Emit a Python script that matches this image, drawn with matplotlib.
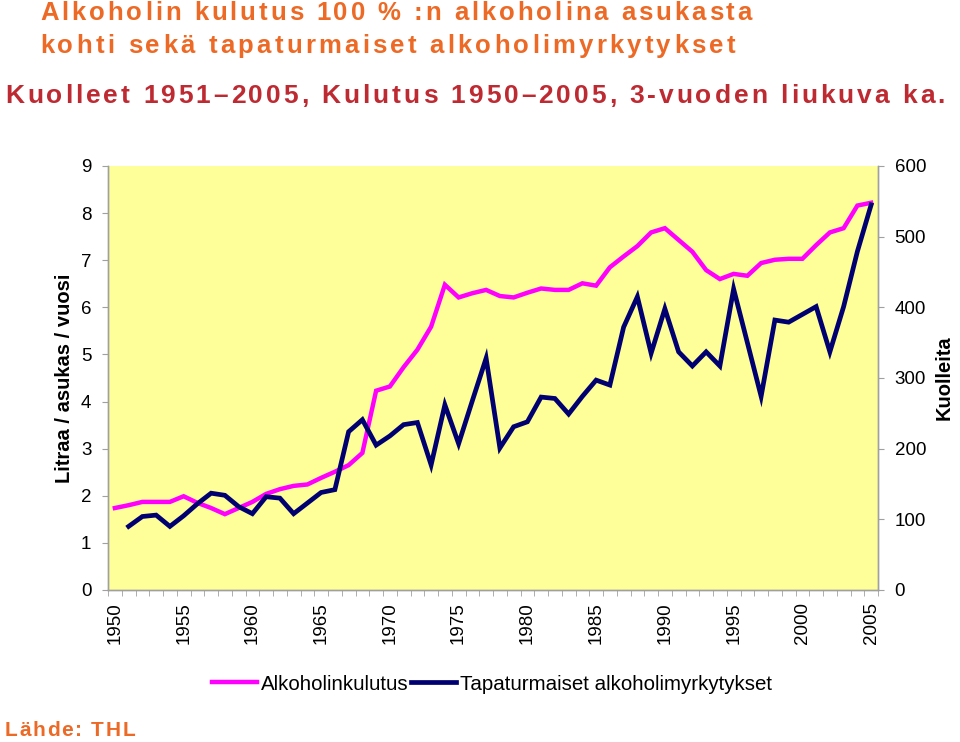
import numpy as np
import matplotlib.pyplot as plt
from matplotlib.font_manager import FontProperties

years_cons = list(range(1950, 2006))
years_dead = list(range(1951, 2006))

# alcohol consumption, litres / inhabitant / year (left axis)
consumption = [1.74, 1.80, 1.87, 1.87, 1.87, 1.99, 1.85, 1.74, 1.61, 1.74,
               1.87, 2.04, 2.14, 2.21, 2.24, 2.38, 2.51, 2.65, 2.91, 4.23,
               4.32, 4.73, 5.10, 5.59, 6.48, 6.21, 6.30, 6.37, 6.24, 6.21,
               6.31, 6.40, 6.37, 6.37, 6.51, 6.46, 6.85, 7.08, 7.30, 7.59,
               7.68, 7.43, 7.18, 6.79, 6.60, 6.71, 6.67, 6.94, 7.01, 7.03,
               7.03, 7.32, 7.59, 7.68, 8.16, 8.22]

# accidental alcohol poisonings, deaths (right axis)
deaths = [90, 104, 106, 90, 105, 122, 137, 134, 118, 108,
          132, 130, 108, 123, 138, 142, 224, 241, 205, 218,
          234, 237, 177, 262, 207, 268, 328, 201, 231, 238,
          273, 271, 249, 274, 297, 290, 372, 415, 335, 398,
          337, 317, 337, 317, 426, 350, 274, 382, 379, 390,
          401, 337, 401, 479, 545]

left_ticks = list(range(0, 10))
right_ticks = list(range(0, 700, 100))
year_labels = list(range(1950, 2010, 5))

pink = '#FF00FF'
navy = '#000070'
orange = '#EC6A26'
red = '#BE2A32'
grey = '#A0A0A0'

W, H = 960, 742
fig = plt.figure(figsize=(9.6, 7.42), dpi=100)
plt.rcParams['font.family'] = ['Liberation Sans', 'DejaVu Sans']


def tracked_text(x, y, s, total, size, color):
    # letter-spaced text: x, y = left/baseline in pixels, total = target width
    prop = FontProperties(family=['Liberation Sans', 'DejaVu Sans'], size=size, weight='bold')
    r = fig.canvas.get_renderer()
    bar = r.get_text_width_height_descent('|', prop, ismath=False)[0]

    def w(t):
        return r.get_text_width_height_descent(t + '|', prop, ismath=False)[0] - bar

    extra = (total - w(s)) / (len(s) - 1)
    for i, ch in enumerate(s):
        if ch == ' ':
            continue
        fig.text((x + w(s[:i]) + i * extra) / W, 1 - y / H, ch, fontproperties=prop,
                 color=color, va='baseline', ha='left')


ax = fig.add_axes([108 / W, 1 - 590 / H, 770 / W, 424 / H])
ax.set_facecolor('#FFFF99')
ax2 = ax.twinx()

l1, = ax.plot(years_cons, consumption, color=pink, lw=3.2, solid_joinstyle='miter')
l2, = ax2.plot(years_dead, deaths, color=navy, lw=3.4, solid_joinstyle='miter')

ax.set_xlim(1949.5, 2005.5)
ax.set_ylim(0, 9)
ax2.set_ylim(0, 600)

ax.set_yticks(left_ticks)
ax2.set_yticks(right_ticks)
ax.set_xticks(year_labels)
ax.set_xticks(np.arange(1949.5, 2006, 1), minor=True)
ax.tick_params(axis='x', which='major', length=0, labelrotation=90, labelsize=13.5, pad=9)
ax.tick_params(axis='x', which='minor', length=4, color=grey, direction='out')
ax.tick_params(axis='y', length=4, color=grey, labelsize=13.5, pad=8)
ax2.tick_params(axis='y', length=4, color=grey, labelsize=13.5, pad=8)

for a in (ax, ax2):
    a.spines['top'].set_visible(False)
    for s in ('left', 'right', 'bottom'):
        a.spines[s].set_color(grey)
        a.spines[s].set_linewidth(1.0)

ax.set_ylabel('Litraa / asukas / vuosi', fontsize=14.5, fontweight='bold', labelpad=5)
ax2.set_ylabel('Kuolleita', fontsize=14.5, fontweight='bold', labelpad=6)

fig.legend([l1, l2], ['Alkoholinkulutus', 'Tapaturmaiset alkoholimyrkytykset'],
           loc='center', bbox_to_anchor=(492 / W, 1 - 684 / H), ncol=2, frameon=False,
           fontsize=14.8, handlelength=2.2, handletextpad=0.2, columnspacing=0.1)

tracked_text(40, 20, 'Alkoholin kulutus 100 % :n alkoholina asukasta', 712, 18.5, orange)
tracked_text(40, 53, 'kohti sekä tapaturmaiset alkoholimyrkytykset', 695, 18.5, orange)
tracked_text(5, 103, 'Kuolleet 1951–2005, Kulutus 1950–2005, 3-vuoden liukuva ka.', 940, 19, red)
tracked_text(5, 736, 'Lähde: THL', 130, 15, orange)

fig.savefig('out.png', dpi=100)
